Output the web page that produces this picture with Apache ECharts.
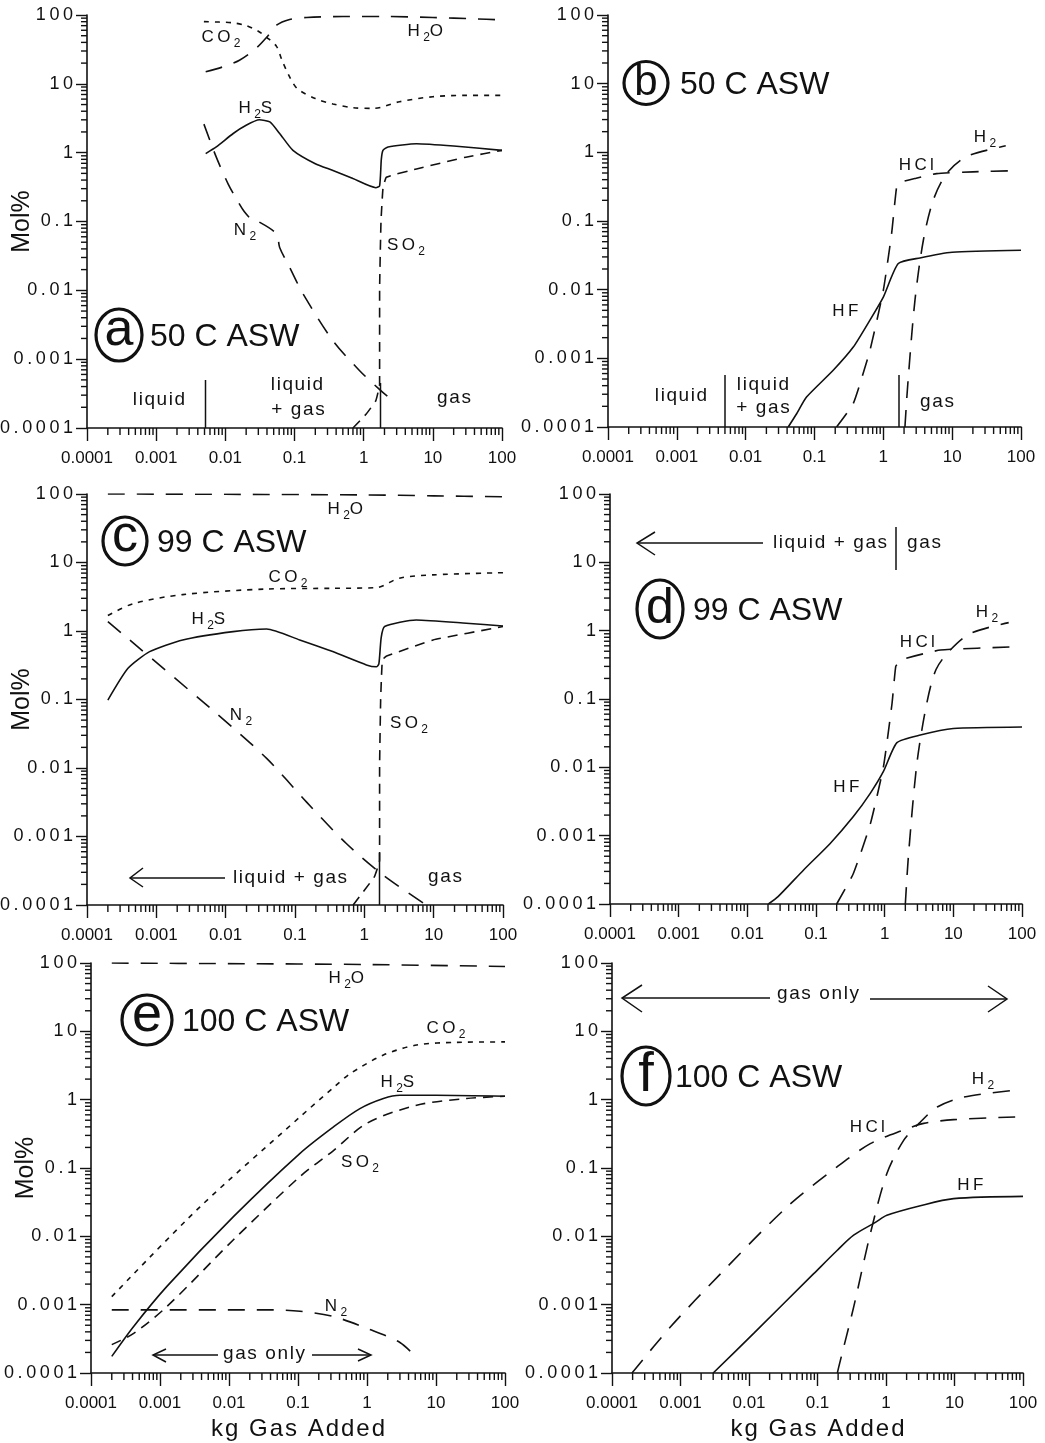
<!DOCTYPE html>
<html>
<head>
<meta charset="utf-8">
<script src="https://cdn.jsdelivr.net/npm/echarts@6/dist/echarts.min.js"></script>
<style>
  html, body { margin: 0; background: #fff; }
  #chart { width: 1045px; height: 1443px; }
</style>
</head>
<body>
<div id="chart"></div>
<script>
// decade tick labels (both axes, every panel)
const decadeLabels = ['0.0001', '0.001', '0.01', '0.1', '1', '10', '100'];

// (a) 50 C ASW - [kg gas added, mol%]
const a_h2o = [[0.0052,15],[0.009,17.5],[0.016,22],[0.028,33],[0.04,48],[0.055,71],[0.085,86],[0.15,92],[0.5,95],[2,95],[10,92],[40,88],[100,85]];
const a_co2 = [[0.0049,80],[0.008,79],[0.013,77],[0.02,70],[0.03,58],[0.04,47],[0.055,35],[0.066,22],[0.085,12.6],[0.11,8.5],[0.2,6.1],[0.36,5.1],[0.7,4.5],[1.4,4.4],[3.3,5.5],[10,6.5],[30,6.8],[100,6.8]];
const a_h2s = [[0.0052,0.97],[0.0074,1.21],[0.013,1.9],[0.02,2.5],[0.031,3.0],[0.044,2.8],[0.061,1.9],[0.095,1.08],[0.2,0.69],[0.36,0.55],[0.7,0.42],[1.5,0.31],[1.7,0.33],[1.8,0.8],[1.9,1.08],[2.25,1.21],[5.8,1.35],[20,1.25],[100,1.08]];
const a_n2 = [[0.0049,2.6],[0.0074,0.86],[0.011,0.35],[0.015,0.2],[0.019,0.137],[0.025,0.103],[0.03,0.1],[0.055,0.066],[0.061,0.042],[0.085,0.0216],[0.133,0.0089],[0.36,0.00185],[0.875,0.00068],[1.66,0.00037],[2.5,0.00026]];
const a_so2 = [[0.7,0.0001],[1.09,0.00016],[1.5,0.00025],[1.7,0.00043],[1.7,0.01],[1.78,0.1],[1.9,0.3],[2.13,0.44],[5.8,0.58],[30,0.86],[100,1.08]];

// (b) 50 C ASW
const b_hf = [[0.0415,0.0001],[0.055,0.000156],[0.0766,0.000273],[0.187,0.00067],[0.366,0.00146],[0.638,0.0036],[1.0,0.0078],[1.65,0.024],[3.4,0.029],[10,0.035],[100,0.0375]];
const b_hcl = [[0.209,0.0001],[0.366,0.00022],[0.638,0.0013],[1.0,0.0098],[1.32,0.066],[1.55,0.3],[1.7,0.36],[3,0.42],[5.95,0.49],[20,0.52],[77,0.54]];
const b_h2 = [[2.06,0.0001],[2.27,0.00043],[2.88,0.007],[3.81,0.052],[5.3,0.2],[8.3,0.49],[16,0.86],[50,1.2],[60,1.25]];

// (c) 99 C ASW
const c_h2o = [[0.0002,100],[0.01,99],[1,97],[10,94],[100,91]];
const c_co2 = [[0.0002,1.68],[0.00046,2.5],[0.0024,3.4],[0.039,4.1],[0.35,4.2],[1.49,4.3],[3.2,5.9],[9.8,6.6],[100,7.1]];
const c_h2s = [[0.0002,0.098],[0.00039,0.285],[0.0008,0.5],[0.0024,0.74],[0.0128,0.98],[0.039,1.07],[0.117,0.74],[0.35,0.5],[1.07,0.32],[1.49,0.3],[1.62,0.33],[1.75,0.8],[1.96,1.16],[5.6,1.45],[29.6,1.3],[100,1.18]];
const c_n2 = [[0.0002,1.37],[0.0073,0.063],[0.039,0.0138],[0.146,0.0032],[0.55,0.00079],[1.86,0.000274],[7.8,0.0001]];
const c_so2 = [[0.69,0.0001],[1.4,0.00026],[1.66,0.00045],[1.66,0.01],[1.72,0.1],[1.82,0.38],[2.1,0.43],[9.8,0.74],[100,1.16]];

// (d) 99 C ASW
const d_hf = [[0.0203,0.0001],[0.028,0.000128],[0.066,0.000315],[0.161,0.00077],[0.35,0.0019],[0.62,0.0042],[0.96,0.0087],[1.51,0.023],[3.3,0.0297],[10,0.037],[100,0.039]];
const d_hcl = [[0.2,0.0001],[0.35,0.00028],[0.62,0.0015],[0.96,0.0102],[1.28,0.086],[1.45,0.3],[1.6,0.34],[1.79,0.38],[6.5,0.52],[80,0.58]];
const d_h2 = [[2.0,0.0001],[2.23,0.00054],[2.95,0.0115],[4.1,0.086],[5.6,0.27],[9.0,0.52],[17.7,0.91],[64,1.31]];

// (e) 100 C ASW
const e_h2o = [[0.0002,100],[0.01,98],[1,95],[100,89]];
const e_co2 = [[0.0002,0.00131],[0.0038,0.027],[0.107,0.56],[0.327,1.5],[0.57,2.4],[1.73,4.5],[5.25,6.3],[20,6.9],[100,7.0]];
const e_h2s = [[0.0002,0.000175],[0.000415,0.00048],[0.00126,0.00185],[0.0116,0.0194],[0.107,0.164],[0.327,0.4],[0.79,0.74],[1.73,1.04],[3.0,1.16],[10,1.16],[100,1.12]];
const e_so2 = [[0.0002,0.00026],[0.000415,0.00038],[0.00126,0.00094],[0.0116,0.0089],[0.107,0.075],[0.327,0.18],[0.99,0.45],[5.25,0.83],[27.8,1.04],[100,1.12]];
const e_n2 = [[0.0002,0.00084],[0.035,0.00084],[0.107,0.0008],[0.327,0.00067],[0.99,0.00045],[3.0,0.00028],[5.55,0.000158]];

// (f) 100 C ASW
const f_hcl = [[0.000196,0.0001],[0.00071,0.00047],[0.0038,0.0028],[0.036,0.027],[0.193,0.104],[0.59,0.227],[1.81,0.36],[3.55,0.45],[9.7,0.51],[82,0.56]];
const f_h2 = [[0.195,0.0001],[0.204,0.000122],[0.337,0.00092],[0.59,0.0109],[1.03,0.083],[1.81,0.254],[3.17,0.47],[5.6,0.78],[13.6,1.09],[73,1.37]];
const f_hf = [[0.003,0.0001],[0.0117,0.00038],[0.088,0.00284],[0.193,0.0062],[0.337,0.0104],[0.7,0.016],[1.03,0.0203],[3.17,0.028],[9.7,0.0356],[100,0.0385]];

const ink = '#111';
const font = '"Liberation Sans", Arial, Helvetica, sans-serif';
const THIN = '\u2009', HAIR = '\u200a';
const spaced = (s, gap) => s.split('').join(gap);

// line styles
const solid = 'solid';
const longDash = [17, 12];
const midDash = [10, 7];
const shortDash = [5, 6];

const grids = [
    { left: 87, top: 15, width: 415, height: 413 },
    { left: 608, top: 15, width: 413, height: 412 },
    { left: 87, top: 494, width: 416, height: 411 },
    { left: 610, top: 494, width: 412, height: 410 },
    { left: 91, top: 963, width: 414, height: 410 },
    { left: 612, top: 963, width: 411, height: 410 }
].map(function (g) {
    return Object.assign({ containLabel: false, outerBoundsMode: 'none' }, g);
});

// minor ticks at 2..9 of each decade
const minorTicks = [];
for (let d = -4; d < 2; d++) {
    for (let k = 2; k <= 9; k++) minorTicks.push(k * Math.pow(10, d));
}

function decade(v) {
    return decadeLabels[Math.round(Math.log10(v)) + 4];
}

const xAxes = [], yAxes = [];
grids.forEach(function (g, i) {
    xAxes.push({
        gridIndex: i, type: 'log', logBase: 10, min: 0.0001, max: 100, splitNumber: 6,
        position: 'bottom',
        axisLine: { onZero: false, lineStyle: { color: ink, width: 1.6 } },
        axisTick: { length: 13, lineStyle: { color: ink, width: 1.4 } },
        axisLabel: { color: ink, fontFamily: font, fontSize: 17, margin: 22, formatter: decade },
        splitLine: { show: false },
        name: i >= 4 ? spaced('kg Gas Added', HAIR) : '',
        nameLocation: 'middle', nameGap: 44, nameMoveOverlap: false,
        nameTextStyle: { color: ink, fontFamily: font, fontSize: 24 }
    });
    yAxes.push({
        gridIndex: i, type: 'log', logBase: 10, min: 0.0001, max: 100, splitNumber: 6,
        position: 'left',
        axisLine: { onZero: false, lineStyle: { color: ink, width: 1.6 } },
        axisTick: { length: 11, lineStyle: { color: ink, width: 1.4 } },
        axisLabel: {
            color: ink, fontFamily: font, fontSize: 18, margin: 14,
            formatter: function (v) { return spaced(decade(v), THIN); }
        },
        splitLine: { show: false },
        name: i % 2 === 0 ? 'Mol%' : '',
        nameLocation: 'middle', nameGap: 52, nameRotate: 90, nameMoveOverlap: false,
        nameTextStyle: { color: ink, fontFamily: font, fontSize: 25 }
    });
});

function curve(panel, data, dash, smooth) {
    return {
        type: 'line', xAxisIndex: panel, yAxisIndex: panel,
        data: data, symbol: 'none', silent: true,
        smooth: smooth === undefined ? 0.3 : smooth,
        lineStyle: { color: ink, width: 1.6, type: dash }
    };
}

// minor log ticks drawn by a custom series on each panel's own axes
function minorTickSeries(panel, dim) {
    return {
        type: 'custom', xAxisIndex: panel, yAxisIndex: panel, silent: true, clip: false, z: 5,
        data: minorTicks.map(function (v) { return dim === 'x' ? [v, 0.0001] : [0.0001, v]; }),
        renderItem: function (params, api) {
            const p = api.coord([api.value(0), api.value(1)]);
            const shape = dim === 'x'
                ? { x1: p[0], y1: p[1], x2: p[0], y2: p[1] + 7 }
                : { x1: p[0], y1: p[1], x2: p[0] - 6, y2: p[1] };
            return { type: 'line', shape: shape, style: { stroke: ink, lineWidth: 1.4, fill: null } };
        }
    };
}

const series = [
    curve(0, a_h2o, longDash), curve(0, a_co2, shortDash), curve(0, a_h2s, solid, 0.2),
    curve(0, a_n2, longDash), curve(0, a_so2, midDash, 0.1),
    curve(1, b_hf, solid, 0.2), curve(1, b_hcl, longDash, 0.15), curve(1, b_h2, longDash),
    curve(2, c_h2o, longDash), curve(2, c_co2, shortDash), curve(2, c_h2s, solid, 0.2),
    curve(2, c_n2, longDash), curve(2, c_so2, midDash, 0.1),
    curve(3, d_hf, solid, 0.2), curve(3, d_hcl, longDash, 0.15), curve(3, d_h2, longDash),
    curve(4, e_h2o, longDash), curve(4, e_co2, shortDash), curve(4, e_h2s, solid),
    curve(4, e_so2, midDash), curve(4, e_n2, longDash),
    curve(5, f_hcl, longDash), curve(5, f_h2, longDash), curve(5, f_hf, solid)
];
grids.forEach(function (g, i) {
    series.push(minorTickSeries(i, 'x'), minorTickSeries(i, 'y'));
});

// ---------- annotations ----------
function chem(parts) {
    return parts.map(function (p, i) {
        if (!p) return '';
        return i % 2 ? '{s|' + p + '}' : '{n|' + spaced(p, THIN) + THIN + '}';
    }).join('');
}
function species(x, y, parts) {
    return {
        type: 'text', x: x, y: y, silent: true,
        style: {
            text: chem(parts), align: 'center', verticalAlign: 'middle', fill: ink,
            rich: {
                n: { fontSize: 17, fontFamily: font, fill: ink },
                s: { fontSize: 12, fontFamily: font, fill: ink, padding: [13, 0, 0, 0], verticalAlign: 'bottom' }
            }
        }
    };
}
function words(x, y, s, size, align) {
    return {
        type: 'text', x: x, y: y, silent: true,
        style: { text: spaced(s, HAIR), fontSize: size || 19, fontFamily: font, fill: ink,
                 align: align || 'center', verticalAlign: 'middle' }
    };
}
function seg(x1, y1, x2, y2, w) {
    return { type: 'line', silent: true, shape: { x1: x1, y1: y1, x2: x2, y2: y2 },
             style: { stroke: ink, lineWidth: w || 1.5 } };
}
function poly(points) {
    return { type: 'polyline', silent: true, shape: { points: points },
             style: { stroke: ink, lineWidth: 1.5, fill: null } };
}
function badge(cx, cy, rx, ry, letter, size, dy, title, tx) {
    return [
        { type: 'ellipse', silent: true, shape: { cx: cx, cy: cy, rx: rx, ry: ry },
          style: { fill: null, stroke: ink, lineWidth: 3.2 } },
        { type: 'text', x: cx, y: cy + dy, silent: true,
          style: { text: letter, fontSize: size, fontFamily: font, fill: ink, align: 'center', verticalAlign: 'middle' } },
        { type: 'text', x: tx, y: cy + 2, silent: true,
          style: { text: title, fontSize: 32, fontFamily: font, fill: ink, align: 'left', verticalAlign: 'middle' } }
    ];
}

const graphics = [].concat(
    // (a)
    badge(119, 335, 23, 26, 'a', 52, -4, '50 C ASW', 150),
    species(221, 37, ['CO', '2']), species(427, 31, ['H', '2', 'O']), species(257, 108, ['H', '2', 'S']),
    species(245, 230, ['N', '2']), species(406, 245, ['SO', '2']),
    seg(205.5, 428, 205.5, 380), seg(380.5, 428, 380.5, 383),
    words(159, 400, 'liquid'), words(297, 385, 'liquid'), words(298, 410, '+ gas'), words(454, 398, 'gas'),
    // (b)
    badge(646, 83, 22, 21.5, 'b', 42, 0, '50 C ASW', 680),
    species(847, 311, ['HF']), species(918, 165, ['HCl']), species(985, 137, ['H', '2']),
    seg(725, 427, 725, 375), seg(899, 427, 899, 375),
    words(681, 396, 'liquid'), words(763, 385, 'liquid'), words(763, 408, '+ gas'), words(937, 402, 'gas'),
    // (c)
    badge(125, 541, 22, 24, 'c', 52, -4, '99 C ASW', 157),
    species(347, 509, ['H', '2', 'O']), species(288, 577, ['CO', '2']), species(210, 619, ['H', '2', 'S']),
    species(241, 715, ['N', '2']), species(409, 723, ['SO', '2']),
    seg(379.5, 905, 379.5, 853),
    poly([[143, 868], [130, 878], [143, 887]]), seg(130, 878, 225, 878),
    words(290, 878, 'liquid + gas'), words(445, 877, 'gas'),
    // (d)
    badge(660, 609, 23, 29, 'd', 50, 0, '99 C ASW', 693),
    species(848, 787, ['HF']), species(919, 642, ['HCl']), species(987, 612, ['H', '2']),
    poly([[655, 532], [637, 543], [655, 555]]), seg(637, 543, 763, 543),
    words(830, 543, 'liquid + gas'), seg(896, 527, 896, 570), words(924, 543, 'gas'),
    // (e)
    badge(147, 1020, 25, 25, 'e', 54, -4, '100 C ASW', 182),
    species(348, 978, ['H', '2', 'O']), species(446, 1028, ['CO', '2']), species(399, 1082, ['H', '2', 'S']),
    species(360, 1162, ['SO', '2']), species(336, 1306, ['N', '2']),
    poly([[166, 1349], [153, 1355], [166, 1362]]), seg(153, 1355, 218, 1355),
    words(264, 1354, 'gas only'), seg(312, 1355, 371, 1355),
    poly([[358, 1349], [371, 1355], [358, 1361]]),
    // (f)
    badge(646, 1076, 24, 29, 'f', 56, 0, '100 C ASW', 675),
    species(869, 1127, ['HCl']), species(983, 1079, ['H', '2']), species(972, 1185, ['HF']),
    poly([[642, 985], [622, 998], [642, 1012]]), seg(622, 998, 770, 998),
    words(818, 994, 'gas only'), seg(870, 999, 1007, 999),
    poly([[988, 986], [1007, 999], [988, 1012]])
);

const chart = echarts.init(document.getElementById('chart'));
chart.setOption({
    animation: false,
    backgroundColor: '#fff',
    grid: grids,
    xAxis: xAxes,
    yAxis: yAxes,
    series: series,
    graphic: { elements: graphics }
});
</script>
</body>
</html>
